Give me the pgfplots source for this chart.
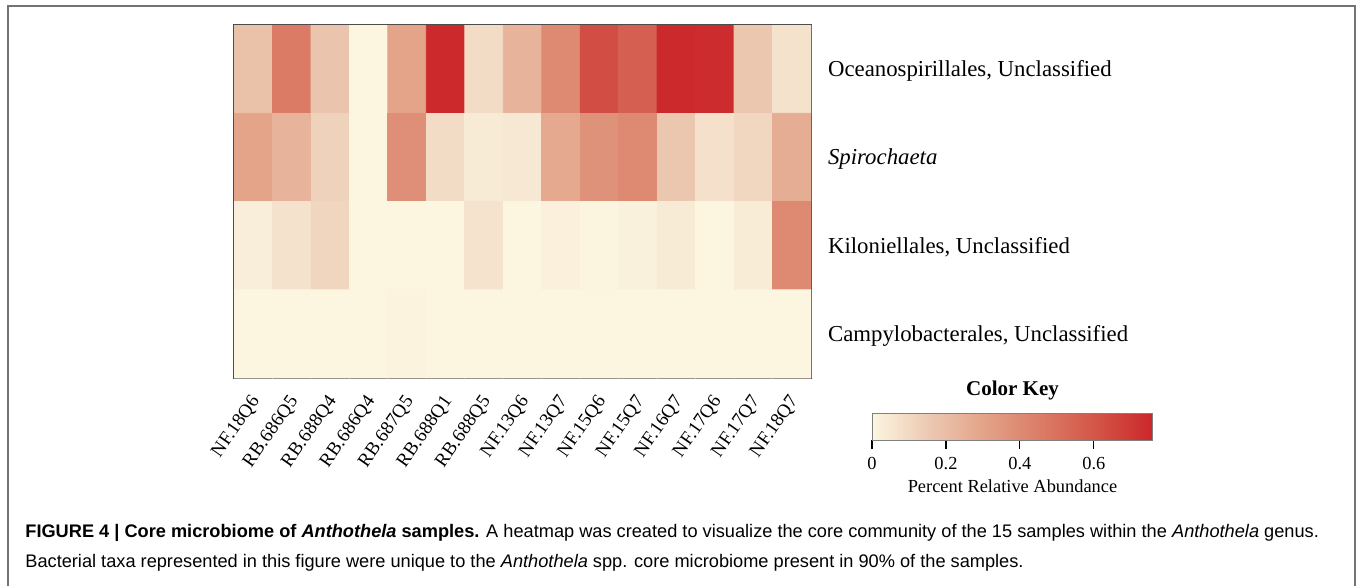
\documentclass[border=0pt]{standalone}
\usepackage{pgfplots}
\pgfplotsset{compat=1.18}
\usepackage{pgfplotstable}
\usepackage{fontspec}
\setmainfont{Liberation Serif}
\setsansfont{Liberation Sans}
\usetikzlibrary{calc}

% x = sample index, y = taxon index (0 = Oceanospirillales), c = relative abundance
\pgfplotstableread{
x y c
0 0 0.18
1 0 0.46
2 0 0.17
3 0 0.0
4 0 0.30
5 0 0.75
6 0 0.088
7 0 0.24
8 0 0.40
9 0 0.63
10 0 0.56
11 0 0.75
12 0 0.74
13 0 0.16
14 0 0.067
0 1 0.30
1 1 0.24
2 1 0.12
3 1 0.0
4 1 0.38
5 1 0.088
6 1 0.037
7 1 0.046
8 1 0.28
9 1 0.37
10 1 0.40
11 1 0.16
12 1 0.07
13 1 0.108
14 1 0.265
0 2 0.027
1 2 0.067
2 2 0.11
3 2 0.0
4 2 0.0
5 2 0.0
6 2 0.065
7 2 0.0
8 2 0.02
9 2 0.007
10 2 0.017
11 2 0.037
12 2 0.0
13 2 0.034
14 2 0.40
0 3 0.0
1 3 0.0
2 3 0.0
3 3 0.0
4 3 0.01
5 3 0.0
6 3 0.0
7 3 0.0
8 3 0.0
9 3 0.0
10 3 0.0
11 3 0.0
12 3 0.0
13 3 0.0
14 3 0.0
}\heatdata

\begin{document}
\begin{tikzpicture}[x=1pt,y=1pt]
\useasboundingbox (0,0) rectangle (678.5,292.5);
\draw[black!55, line width=1pt] (4,-2) -- (4,289.5) -- (677.5,289.5) -- (677.5,-2);
\begin{axis}[
  at={(117pt,103.5pt)}, anchor=south west,
  scale only axis, width=288.5pt, height=176.5pt,
  xmin=-0.5, xmax=14.5, ymin=-0.5, ymax=3.5,
  y dir=reverse,
  axis line style={draw=black!70, line width=0.9pt},
  xtick={0,...,14},
  xticklabels={NF.18Q6,RB.686Q5,RB.688Q4,RB.686Q4,RB.687Q5,RB.688Q1,RB.688Q5,NF.13Q6,NF.13Q7,NF.15Q6,NF.15Q7,NF.16Q7,NF.17Q6,NF.17Q7,NF.18Q7},
  ytick={0,1,2,3},
  yticklabels={{Oceanospirillales, Unclassified},{\itshape Spirochaeta},{Kiloniellales, Unclassified},{Campylobacterales, Unclassified}},
  yticklabel pos=right,
  major tick length=0pt,
  xticklabel style={inner sep=0pt, xshift=1.5pt, yshift=-10pt, rotate=55, anchor=east, font=\fontsize{9.5}{10}\selectfont},
  yticklabel style={anchor=west, xshift=5pt, yshift=-1pt, font=\fontsize{11.4}{13}\selectfont},
  colormap={heat}{rgb255(0cm)=(252,246,225); rgb255(1cm)=(236,201,178); rgb255(2cm)=(227,163,136); rgb255(3cm)=(219,124,103); rgb255(4cm)=(211,84,71); rgb255(5cm)=(204,38,42)},
  point meta min=0, point meta max=0.76,
  colorbar horizontal,
  colorbar style={
    at={($(parent axis.south west)+(319pt,-22.5pt)$)}, anchor=south west,
    scale only axis, width=140.5pt, height=13.5pt,
    xtick={0,0.2,0.4,0.6},
    xtick pos=left, xtick align=outside,
    major tick length=4.5pt,
    tick style={black, line width=0.6pt},
    axis line style={draw=black!50, line width=0.5pt},
    /pgf/number format/assume math mode=true,
    xticklabel style={font=\fontsize{9.2}{10}\selectfont, yshift=-0.5pt},
    xlabel={Percent Relative Abundance},
    xlabel style={font=\fontsize{9.2}{10}\selectfont, yshift=2pt},
    title={\textbf{Color Key}},
    title style={font=\fontsize{10.5}{12}\selectfont, yshift=-3pt},
  },
]
\addplot[matrix plot*, mesh/cols=15, point meta=explicit] table[meta=c] {\heatdata};
\end{axis}
\node[anchor=base west, inner sep=0pt, font=\sffamily\fontsize{9.1}{10}\selectfont] at (12.5,24)
  {\textbf{FIGURE 4 | Core microbiome of \textit{Anthothela} samples.} A heatmap was created to visualize the core community of the 15 samples within the \textit{Anthothela} genus.};
\node[anchor=base west, inner sep=0pt, font=\sffamily\fontsize{9.1}{10}\selectfont] at (12.5,9)
  {Bacterial taxa represented in this figure were unique to the \textit{Anthothela} spp. core microbiome present in 90\% of the samples.};
\end{tikzpicture}
\end{document}
